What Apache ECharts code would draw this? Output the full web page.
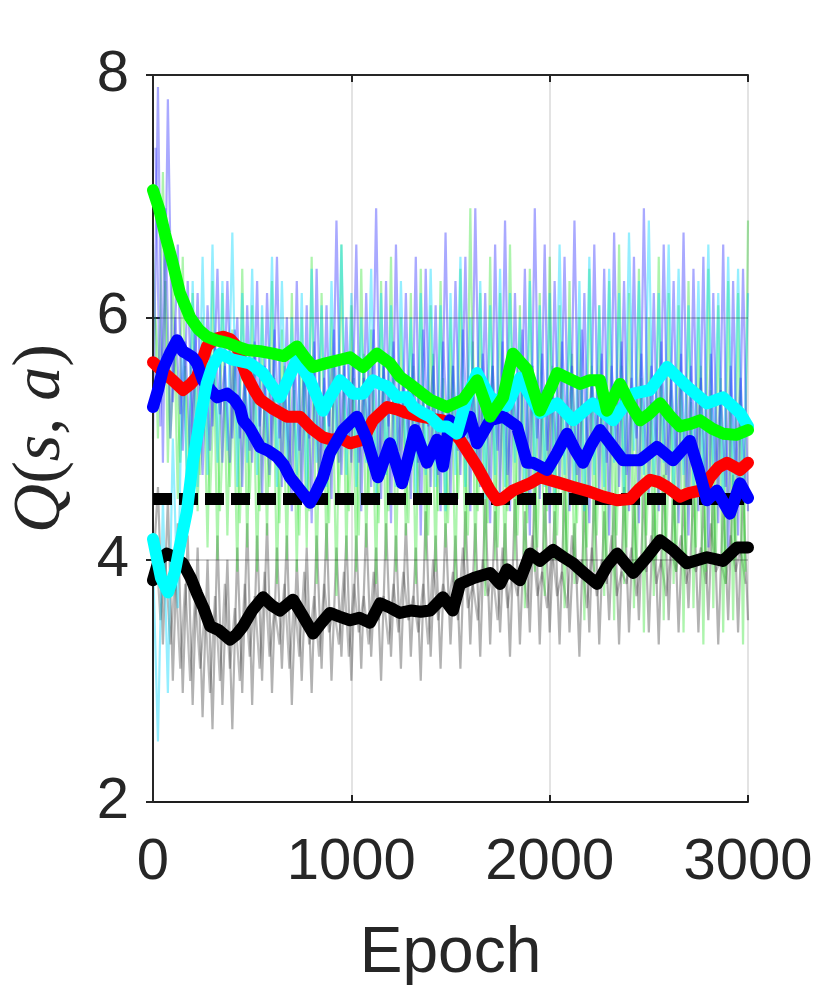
<!DOCTYPE html>
<html>
<head>
<meta charset="utf-8">
<script src="https://cdn.jsdelivr.net/npm/echarts@6/dist/echarts.min.js"></script>
<style>
html,body{margin:0;padding:0;background:#fff;}
#chart{width:830px;height:994px;}
</style>
</head>
<body>
<div id="chart"></div>
<script>
// ---- axis settings ----
const xTicks = [0, 1000, 2000, 3000];
const yTicks = [2, 4, 6, 8];

// ---- noisy per-epoch traces (sampled every 25 epochs; "2" arrays offset by 12.5) ----
const noiseStep = 25;
const blueNoise = [
5.0,7.9,4.8,7.8,5.3,6.6,4.9,6.3,5.0,6.2,
4.7,6.1,5.1,6.4,4.8,6.3,5.0,6.0,4.6,6.1,
4.8,6.3,4.5,6.2,4.9,6.5,4.6,6.0,4.4,6.3,
4.5,6.1,4.3,6.4,4.6,6.1,4.5,6.8,4.7,6.0,
4.8,6.6,4.4,6.2,4.6,6.9,4.5,6.3,4.3,6.6,
4.6,6.2,4.5,6.5,4.2,6.4,4.6,6.1,4.4,6.7,
4.5,6.3,4.7,6.5,4.4,6.9,4.6,6.2,4.3,6.6,
4.5,6.8,4.4,6.2,4.6,6.4,4.2,6.9,4.5,6.6,
4.3,6.3,4.6,6.5,4.4,6.8,4.5,6.2,4.3,6.6,
4.5,6.4,4.2,6.7,4.6,6.3,4.4,6.5,4.3,6.9,
4.5,6.2,4.4,6.6,4.6,6.3,4.3,6.7,4.2,6.4,
4.4,6.5,4.1,6.2,4.3,6.6,4.0,6.3,4.2,6.4,4.4];
const blueNoise2 = [
7.4,5.1,6.9,5.0,6.0,5.2,5.8,4.9,5.9,5.1,
5.7,4.9,5.8,5.2,5.6,4.8,5.9,5.0,5.5,4.9,
5.8,5.1,5.6,4.7,5.9,5.0,5.5,4.8,5.7,4.9,
5.6,5.0,5.8,4.7,5.5,5.1,5.9,4.8,5.6,5.0,
5.7,4.8,5.5,5.0,5.9,4.7,5.6,5.1,5.8,4.9,
5.5,5.0,5.7,4.8,5.9,5.1,5.6,4.7,5.8,5.0,
5.6,4.9,5.9,5.0,5.5,4.8,5.7,5.1,5.6,4.9,
5.8,4.7,5.5,5.0,5.9,4.8,5.6,5.0,5.7,4.9,
5.5,4.8,5.8,5.0,5.6,4.7,5.9,4.9,5.5,5.0,
5.7,4.8,5.6,4.9,5.8,4.7,5.5,5.0,5.7,4.8,
5.6,4.9,5.8,4.7,5.5,4.8,5.7,4.6,5.6,4.8,
5.5,4.6,5.7,4.7,5.4,4.6,5.6,4.7,5.5,4.6];
const greenNoise = [
6.6,5.0,7.2,4.8,6.4,4.5,6.5,4.3,6.2,4.4,
6.0,4.1,6.3,4.0,6.2,4.2,5.9,3.9,6.4,4.1,
6.1,3.9,6.0,4.2,6.3,3.8,5.9,4.0,6.2,3.9,
6.0,4.1,6.5,3.8,6.2,4.0,6.0,3.7,6.6,4.0,
6.1,3.9,6.4,4.1,5.9,3.8,6.3,4.0,6.5,3.9,
6.0,4.2,6.2,3.8,6.4,4.0,6.1,3.9,6.3,4.1,
6.0,3.8,6.4,4.0,6.9,3.9,6.2,3.7,6.5,4.0,
6.2,3.8,6.6,4.0,6.1,3.6,6.4,3.9,6.2,3.7,
6.5,4.0,6.1,3.6,6.3,3.8,6.0,3.5,6.4,3.9,
6.1,3.7,6.3,3.5,6.6,3.8,6.2,3.6,6.4,3.4,
6.0,3.7,6.5,3.5,6.2,3.8,6.1,3.4,6.3,3.6,
6.0,3.3,6.4,3.6,6.1,3.4,6.3,3.5,6.2,3.3,6.8];
const greenNoise2 = [
6.0,5.3,6.3,5.0,5.8,4.8,5.6,4.6,5.7,4.7,
5.5,4.5,5.6,4.4,5.4,4.6,5.7,4.3,5.5,4.5,
5.6,4.4,5.3,4.6,5.5,4.3,5.6,4.5,5.4,4.2,
5.7,4.4,5.5,4.6,5.3,4.3,5.6,4.5,5.4,4.4,
5.5,4.2,5.7,4.5,5.4,4.3,5.6,4.4,5.5,4.6,
5.3,4.3,5.6,4.5,5.4,4.2,5.7,4.4,5.5,4.3,
5.6,4.5,5.4,4.2,5.8,4.4,5.5,4.3,5.6,4.1,
5.4,4.4,5.7,4.2,5.5,4.3,5.6,4.1,5.4,4.4,
5.6,4.2,5.5,4.0,5.7,4.3,5.4,4.1,5.6,4.2,
5.5,4.0,5.3,4.2,5.6,4.1,5.4,3.9,5.5,4.2,
5.3,4.0,5.6,4.1,5.4,3.9,5.5,4.0,5.3,4.1,
5.6,3.9,5.4,4.0,5.5,3.8,5.3,4.0,5.4,3.9];
const cyanNoise = [
4.0,2.5,4.5,2.9,5.0,3.6,5.8,4.4,6.3,4.6,
6.5,4.7,6.6,4.8,6.3,4.9,6.7,4.6,6.2,4.8,
6.4,4.7,6.1,4.9,6.5,4.6,6.3,4.8,6.0,4.7,
6.2,4.5,6.4,4.8,6.1,4.6,6.3,4.9,6.6,4.7,
6.2,4.6,6.0,4.8,6.4,4.5,6.2,4.7,6.1,4.6,
6.3,4.8,6.0,4.5,6.2,4.7,6.4,4.6,6.1,4.4,
6.2,4.7,6.5,4.6,6.0,4.8,6.3,4.5,6.1,4.7,
6.4,4.6,6.2,4.8,6.0,4.5,6.3,4.7,6.1,4.6,
6.2,4.5,6.6,4.7,6.0,4.6,6.3,4.4,6.5,4.7,
6.1,4.6,6.4,4.8,6.2,4.5,6.7,4.9,6.3,4.7,
6.8,4.6,6.2,4.8,6.6,4.5,6.4,4.7,6.1,4.6,
6.3,4.5,6.6,4.7,6.2,4.4,6.5,4.6,6.4,4.5,6.2];
const grayNoise = [
3.9,4.6,3.3,4.5,3.0,4.3,2.9,4.2,2.8,4.1,
2.7,4.0,2.6,4.2,2.8,4.0,2.6,4.1,2.9,4.3,
2.8,4.2,3.0,4.3,2.9,4.1,3.1,4.2,2.8,4.0,
3.0,4.1,2.9,4.2,3.1,4.3,3.0,4.1,3.2,4.2,
3.0,4.2,3.1,4.3,3.2,4.1,3.0,4.3,3.2,4.2,
3.1,4.3,3.2,4.1,3.0,4.4,3.2,4.2,3.1,4.3,
3.3,4.2,3.1,4.4,3.3,4.3,3.2,4.5,3.3,4.4,
3.4,4.3,3.2,4.5,3.3,4.4,3.4,4.6,3.3,4.5,
3.4,4.4,3.3,4.6,3.4,4.3,3.2,4.5,3.4,4.6,
3.3,4.4,3.5,4.5,3.3,4.6,3.4,4.5,3.5,4.6,
3.4,4.5,3.3,4.7,3.5,4.6,3.4,4.5,3.6,4.6,
3.4,4.5,3.5,4.6,3.3,4.5,3.5,4.7,3.4,4.6,3.5];
const grayNoise2 = [
4.2,3.5,4.0,3.3,3.9,3.1,3.8,3.0,3.7,3.1,
3.6,2.9,3.7,3.0,3.8,3.1,3.6,3.0,3.8,3.2,
3.7,3.1,3.9,3.2,3.6,3.3,3.8,3.1,3.7,3.2,
3.9,3.3,3.7,3.2,3.8,3.4,3.6,3.3,3.9,3.2,
3.8,3.4,3.7,3.3,3.9,3.5,3.7,3.3,3.8,3.4,
3.9,3.5,3.7,3.4,3.8,3.3,4.0,3.5,3.8,3.6,
3.9,3.5,4.1,3.6,3.8,3.5,4.0,3.7,3.9,3.5,
4.1,3.6,3.9,3.7,4.0,3.6,4.2,3.7,3.9,3.6,
4.1,3.7,3.9,3.6,4.2,3.8,4.0,3.6,4.1,3.7,
4.0,3.8,4.2,3.7,3.9,3.8,4.1,3.7,4.0,3.9,
4.2,3.8,4.0,3.7,4.1,3.9,4.2,3.8,4.0,3.9,
4.1,3.8,4.3,3.9,4.0,3.8,4.2,3.9,4.1,3.8];

// ---- smoothed curves [epoch, Q] ----
const greenQ = [[0,7.05],[30,6.9],[60,6.69],[96,6.47],[136,6.2],[187,6.0],[230,5.9],[272,5.84],[320,5.81],[373,5.79],[420,5.76],[474,5.73],[540,5.72],[605,5.7],[660,5.68],[726,5.76],[770,5.66],[807,5.59],[870,5.62],[943,5.65],[993,5.67],[1059,5.59],[1129,5.7],[1195,5.62],[1245,5.51],[1311,5.43],[1397,5.32],[1482,5.26],[1563,5.32],[1634,5.48],[1700,5.18],[1765,5.34],[1815,5.7],[1886,5.57],[1951,5.23],[2000,5.4],[2037,5.54],[2090,5.5],[2153,5.45],[2200,5.48],[2254,5.48],[2289,5.23],[2355,5.45],[2400,5.3],[2456,5.15],[2500,5.2],[2557,5.29],[2610,5.18],[2657,5.1],[2710,5.12],[2758,5.15],[2820,5.08],[2874,5.04],[2940,5.03],[3000,5.07]];
const redQ = [[0,5.63],[50,5.55],[100,5.48],[151,5.4],[190,5.45],[222,5.51],[250,5.65],[272,5.76],[310,5.82],[353,5.84],[390,5.82],[423,5.76],[450,5.62],[474,5.51],[510,5.4],[540,5.32],[600,5.25],[676,5.18],[741,5.18],[800,5.08],[857,5.01],[900,4.99],[950,5.0],[993,4.96],[1059,4.99],[1109,5.15],[1180,5.26],[1230,5.24],[1280,5.21],[1350,5.18],[1420,5.16],[1462,5.15],[1548,4.99],[1634,4.77],[1700,4.57],[1735,4.49],[1760,4.5],[1815,4.57],[1901,4.63],[1951,4.68],[2037,4.64],[2118,4.6],[2203,4.56],[2270,4.52],[2340,4.49],[2405,4.5],[2450,4.58],[2506,4.66],[2550,4.64],[2592,4.6],[2657,4.52],[2700,4.55],[2758,4.57],[2790,4.62],[2808,4.68],[2850,4.76],[2894,4.8],[2960,4.74],[3000,4.8]];
const blueQ = [[0,5.26],[25,5.4],[50,5.57],[85,5.7],[121,5.81],[150,5.72],[171,5.7],[200,5.67],[222,5.62],[252,5.48],[290,5.4],[323,5.34],[373,5.37],[410,5.32],[439,5.25],[454,5.15],[489,5.08],[540,4.93],[580,4.9],[625,4.85],[660,4.78],[691,4.68],[740,4.58],[792,4.47],[820,4.55],[857,4.68],[892,4.88],[958,5.07],[1028,5.18],[1079,4.99],[1134,4.68],[1195,4.96],[1255,4.63],[1321,5.07],[1381,4.8],[1432,4.99],[1462,4.77],[1497,5.15],[1550,5.05],[1598,5.18],[1634,4.96],[1700,5.15],[1765,5.18],[1835,5.1],[1886,4.8],[1916,4.8],[1987,4.74],[2037,4.88],[2087,5.04],[2130,4.9],[2168,4.8],[2210,4.95],[2254,5.07],[2310,4.95],[2370,4.82],[2456,4.82],[2541,4.93],[2622,4.82],[2665,4.9],[2707,4.98],[2750,4.75],[2793,4.49],[2843,4.57],[2909,4.38],[2960,4.63],[3000,4.51]];
const cyanQ = [[0,4.17],[40,3.85],[76,3.73],[110,3.9],[140,4.15],[171,4.4],[200,4.8],[237,5.15],[270,5.45],[300,5.6],[338,5.7],[403,5.65],[489,5.62],[555,5.54],[640,5.34],[726,5.65],[792,5.48],[857,5.23],[892,5.34],[943,5.48],[977,5.43],[1008,5.37],[1059,5.37],[1109,5.48],[1145,5.45],[1180,5.43],[1230,5.34],[1280,5.34],[1311,5.26],[1361,5.21],[1397,5.18],[1447,5.1],[1482,5.1],[1532,5.04],[1583,5.34],[1634,5.54],[1700,5.34],[1785,5.27],[1850,5.5],[1951,5.21],[2037,5.29],[2118,5.15],[2218,5.29],[2320,5.15],[2421,5.37],[2506,5.4],[2592,5.59],[2692,5.43],[2793,5.29],[2874,5.34],[2960,5.21],[3000,5.1]];
const blackQ = [[0,3.83],[30,4.0],[70,4.05],[110,4.02],[151,3.97],[190,3.85],[222,3.72],[255,3.6],[288,3.45],[330,3.42],[388,3.34],[420,3.38],[454,3.45],[500,3.58],[555,3.69],[600,3.62],[640,3.58],[706,3.67],[750,3.55],[807,3.39],[850,3.48],[892,3.56],[940,3.53],[993,3.5],[1040,3.52],[1094,3.48],[1145,3.64],[1200,3.6],[1245,3.56],[1300,3.58],[1350,3.57],[1397,3.58],[1462,3.69],[1512,3.58],[1548,3.8],[1620,3.85],[1700,3.89],[1750,3.8],[1785,3.92],[1850,3.83],[1901,4.05],[1951,3.99],[2017,4.08],[2070,4.02],[2118,3.97],[2180,3.88],[2239,3.8],[2290,3.95],[2340,4.05],[2421,3.89],[2490,4.02],[2557,4.16],[2622,4.08],[2692,3.97],[2793,4.02],[2874,3.99],[2944,4.1],[3000,4.1]];
const referenceQ = 4.5;

const toPairs = (arr, offset) => arr.map((v, i) => [i * noiseStep + offset, v]);

const chart = echarts.init(document.getElementById('chart'), null, {renderer: 'canvas'});
const axisColor = '#262626';
const font = 'Liberation Sans, Arial, sans-serif';
const serif = 'Liberation Serif, Times New Roman, serif';

function noise(data, offset, color) {
  return {type: 'line', data: toPairs(data, offset), showSymbol: false, symbol: 'none',
    lineStyle: {color: color, width: 2.2}, z: 1, silent: true, animation: false};
}
function thick(data, color) {
  return {type: 'line', data: data, showSymbol: false, symbol: 'none',
    lineStyle: {color: color, width: 12, cap: 'round', join: 'round'}, z: 4, animation: false};
}

chart.setOption({
  animation: false,
  backgroundColor: '#fff',
  grid: {left: 153, right: 82, top: 75, bottom: 192, containLabel: false, outerBoundsMode: 'none'},
  xAxis: [{
    type: 'value', min: 0, max: 3000, interval: 1000,
    name: 'Epoch', nameLocation: 'middle', nameGap: 120,
    nameTextStyle: {fontFamily: font, fontSize: 64, color: axisColor},
    axisLine: {show: true, lineStyle: {color: axisColor, width: 2}},
    axisTick: {show: true, inside: true, length: 7, lineStyle: {color: axisColor, width: 2}},
    axisLabel: {fontFamily: font, fontSize: 58, color: axisColor, margin: 32,
      formatter: v => String(v)},
    splitLine: {show: false}
  }, {
    type: 'value', min: 0, max: 3000, interval: 1000, position: 'top', z: 3,
    axisLine: {show: true, lineStyle: {color: axisColor, width: 2}},
    axisTick: {show: true, inside: true, length: 7, lineStyle: {color: axisColor, width: 2}},
    axisLabel: {show: false},
    splitLine: {show: true, lineStyle: {color: 'rgba(0,0,0,0.15)', width: 1.5}}
  }],
  yAxis: [{
    type: 'value', min: 2, max: 8, interval: 2,
    name: '{i|Q}{n|(}{i|s}{n|, }{i|a}{n|)}', nameLocation: 'middle', nameGap: 78, nameRotate: 90,
    nameTextStyle: {rich: {
      i: {fontFamily: serif, fontStyle: 'italic', fontSize: 68, color: axisColor},
      n: {fontFamily: serif, fontSize: 68, color: axisColor}
    }},
    axisLine: {show: true, lineStyle: {color: axisColor, width: 2}},
    axisTick: {show: true, inside: true, length: 7, lineStyle: {color: axisColor, width: 2}},
    axisLabel: {fontFamily: font, fontSize: 58, color: axisColor, margin: 24,
      formatter: v => String(v)},
    splitLine: {show: false}
  }, {
    type: 'value', min: 2, max: 8, interval: 2, position: 'right', z: 3,
    axisLine: {show: true, lineStyle: {color: axisColor, width: 2}},
    axisTick: {show: true, inside: true, length: 7, lineStyle: {color: axisColor, width: 2}},
    axisLabel: {show: false},
    splitLine: {show: true, lineStyle: {color: 'rgba(0,0,0,0.25)', width: 1.5}}
  }],
  series: [
    noise(grayNoise, 0, 'rgba(0,0,0,0.3)'),
    noise(grayNoise2, 12.5, 'rgba(0,0,0,0.26)'),
    noise(greenNoise, 0, 'rgba(40,225,40,0.38)'),
    noise(greenNoise2, 12.5, 'rgba(40,225,40,0.35)'),
    noise(cyanNoise, 0, 'rgba(0,215,255,0.42)'),
    noise(blueNoise, 0, 'rgba(40,40,255,0.4)'),
    noise(blueNoise2, 12.5, 'rgba(40,40,255,0.36)'),
    {type: 'line', data: [[0, referenceQ], [3000, referenceQ]], showSymbol: false, symbol: 'none',
      lineStyle: {color: '#000', width: 12, type: [19, 7]}, z: 4, animation: false},
    thick(blackQ, '#000000'),
    thick(redQ, '#ff0000'),
    thick(blueQ, '#0000ff'),
    thick(cyanQ, '#00ffff'),
    thick(greenQ, '#00ff00')
  ]
});
</script>
</body>
</html>
